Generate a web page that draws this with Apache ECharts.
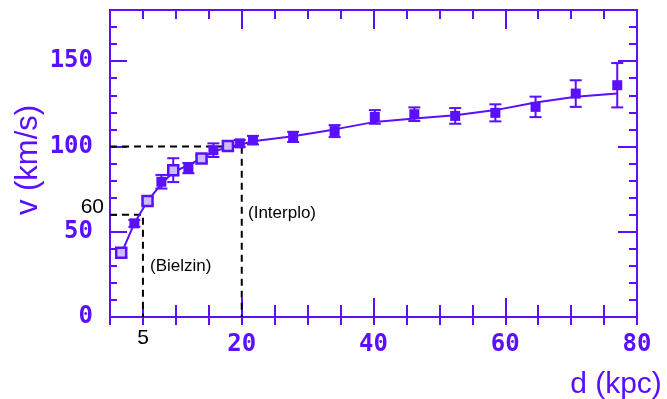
<!DOCTYPE html>
<html>
<head>
<meta charset="utf-8">
<script src="https://cdn.jsdelivr.net/npm/echarts@6/dist/echarts.min.js"></script>
<style>
  body { margin: 0; background: #fff; }
  #chart { width: 667px; height: 399px; }
</style>
</head>
<body>
<div id="chart"></div>
<script>
// measured rotation curve: distance (kpc), velocity (km/s), error
const distances = [1.7, 3.7, 5.7, 7.8, 9.6, 11.9, 13.9, 15.7, 17.9, 19.7, 21.7, 27.8, 34.1, 40.2, 46.2, 52.4, 58.5, 64.6, 70.7, 77.0];
const velocities = [37.7, 54.9, 68, 79.3, 86.1, 87.3, 93, 97.8, 100.2, 101.8, 103.7, 105.6, 109, 117.3, 118.9, 117.9, 119.7, 123.2, 131, 135.9];
const errors = [2.5, 2, 2, 4, 7, 3, 2, 4, 2, 2, 2.5, 3, 3.5, 4, 4, 4.6, 5, 6, 7.8, 13];
// model curve through the points
const modelVel = [37, 55, 68, 78, 85, 89, 93, 97, 99.5, 101, 103, 106, 110, 114.4, 116.4, 118.3, 121.3, 125.8, 129.1, 131];
// dashed guide lines
const guide20 = [[0, 100], [20, 100], [20, 0]];
const guide5 = [[0, 60], [5, 60], [5, 0]];
const xTicks = [20, 40, 60, 80];
const yTicks = [0, 50, 100, 150];

const BLUE = '#5a0fff';
const chart = echarts.init(document.getElementById('chart'));

const tickFont = { color: BLUE, fontFamily: 'DejaVu Sans Mono', fontWeight: 'bold', fontSize: 24 };
const sans = '"Liberation Sans", Arial, sans-serif';

// one axis layer: major (labels + long ticks) or minor (short ticks)
function xLayer(pos, interval, len, inside, labels) {
  return {
    type: 'value', position: pos, min: 0, max: 80, interval: interval,
    axisLine: { show: true, onZero: false, lineStyle: { color: BLUE, width: 2 } },
    axisTick: { show: true, inside: inside, length: len, lineStyle: { color: BLUE, width: 2 } },
    axisLabel: labels ? Object.assign({ show: true, margin: 16, showMinLabel: false,
      formatter: v => xTicks.includes(v) ? String(v) : '' }, tickFont) : { show: false },
    splitLine: { show: false }
  };
}
function yLayer(pos, interval, len, labels) {
  return {
    type: 'value', position: pos, min: 0, max: 180, interval: interval,
    axisLine: { show: true, onZero: false, lineStyle: { color: BLUE, width: 2 } },
    axisTick: { show: true, inside: true, length: len, lineStyle: { color: BLUE, width: 2 } },
    axisLabel: labels ? Object.assign({ show: true, margin: 17, showMaxLabel: false,
      formatter: v => yTicks.includes(v) ? String(v) : '' }, tickFont) : { show: false },
    splitLine: { show: false }
  };
}

const errData = distances.map((d, i) => [d, velocities[i] - errors[i], velocities[i] + errors[i]]);
const hollowPts = [], filledPts = [];
distances.forEach((d, i) => (d < 20 && i % 2 === 0 ? hollowPts : filledPts).push([d, velocities[i]]));

const option = {
  animation: false,
  grid: { left: 110, right: 30, top: 10, bottom: 82 },
  xAxis: [
    xLayer('bottom', 20, 19, true, true),
    xLayer('bottom', 5, 12, true, false),
    xLayer('bottom', 5, 8, false, false),
    xLayer('top', 20, 19, true, false),
    xLayer('top', 5, 9, true, false)
  ],
  yAxis: [
    yLayer('left', 50, 17, true),
    yLayer('left', 10, 7, false),
    yLayer('right', 50, 19, false),
    yLayer('right', 10, 8, false)
  ],
  series: [
    {
      type: 'line', data: guide20, symbol: 'none', z: 1,
      lineStyle: { color: '#000', width: 2, type: [7, 5] }
    },
    {
      type: 'line', data: guide5, symbol: 'none', z: 1,
      lineStyle: { color: '#000', width: 2, type: [7, 5] }
    },
    {
      type: 'line', data: distances.map((d, i) => [d, modelVel[i]]), symbol: 'none', z: 2,
      lineStyle: { color: BLUE, width: 2 }
    },
    {
      type: 'custom', data: errData, z: 3,
      renderItem: function (params, api) {
        const top = api.coord([api.value(0), api.value(2)]);
        const bot = api.coord([api.value(0), api.value(1)]);
        const w = 6;
        const st = { stroke: BLUE, lineWidth: 2 };
        return {
          type: 'group', children: [
            { type: 'line', shape: { x1: top[0], y1: top[1], x2: bot[0], y2: bot[1] }, style: st },
            { type: 'line', shape: { x1: top[0] - w, y1: top[1], x2: top[0] + w, y2: top[1] }, style: st },
            { type: 'line', shape: { x1: bot[0] - w, y1: bot[1], x2: bot[0] + w, y2: bot[1] }, style: st }
          ]
        };
      }
    },
    {
      type: 'scatter', data: filledPts, symbol: 'rect', symbolSize: 10, z: 4,
      itemStyle: { color: BLUE, opacity: 1 }
    },
    {
      type: 'scatter', data: hollowPts, symbol: 'rect', symbolSize: 10, z: 4,
      itemStyle: { color: '#cbbcff', borderColor: BLUE, borderWidth: 2.5, opacity: 1 }
    }
  ],
  graphic: [
    { type: 'text', x: 28, y: 160, rotation: Math.PI / 2,
      style: { text: 'v (km/s)', fill: BLUE, font: '31px ' + sans, align: 'center', verticalAlign: 'middle' } },
    { type: 'text', x: 616, y: 385,
      style: { text: 'd (kpc)', fill: BLUE, font: '30px ' + sans, align: 'center', verticalAlign: 'middle' } },
    { type: 'text', x: 143, y: 338,
      style: { text: '5', fill: '#000', font: '21px ' + sans, align: 'center', verticalAlign: 'middle' } },
    { type: 'text', x: 104, y: 207,
      style: { text: '60', fill: '#000', font: '21px ' + sans, align: 'right', verticalAlign: 'middle' } },
    { type: 'text', x: 248, y: 213,
      style: { text: '(Interplo)', fill: '#000', font: '17px ' + sans, align: 'left', verticalAlign: 'middle' } },
    { type: 'text', x: 150, y: 266,
      style: { text: '(Bielzin)', fill: '#000', font: '17px ' + sans, align: 'left', verticalAlign: 'middle' } }
  ]
};

chart.setOption(option);
</script>
</body>
</html>
